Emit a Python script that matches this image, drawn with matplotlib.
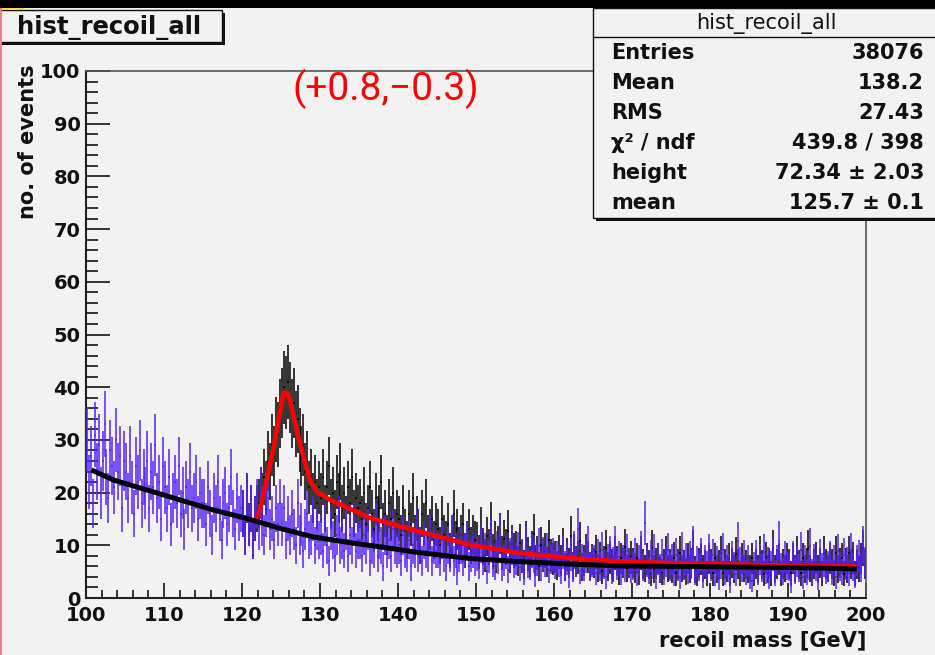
import numpy as np
import matplotlib
matplotlib.use('Agg')
import matplotlib.pyplot as plt
from matplotlib.patches import Rectangle
from matplotlib.lines import Line2D
from matplotlib.ticker import MultipleLocator

W, H = 935, 655
BG = '#f2f2f2'

# ---------------- data ----------------
bin_width = 0.25
bkg_start = 100.0
bkg_counts = [
    30, 22, 27, 18, 31, 24, 29, 20, 26, 33, 23, 19, 28, 25, 21, 30, 24, 27, 17, 26,
    24, 19, 27, 21, 16, 25, 22, 28, 18, 23, 20, 26, 17, 24, 21, 29, 19, 22, 15, 25,
    21, 17, 23, 14, 19, 22, 18, 25, 16, 20, 13, 21, 18, 24, 17, 19, 22, 15, 20, 18,
    18, 14, 21, 16, 12, 19, 17, 22, 15, 11, 18, 20, 14, 17, 23, 16, 13, 19, 15, 17,
    16, 12, 19, 14, 17, 11, 15, 18, 13, 20, 14, 12, 16, 19, 13, 15, 11, 17, 14, 18,
    14, 17, 11, 15, 12, 16, 13, 10, 18, 12, 14, 9, 13, 16, 11, 12, 15, 10, 13, 11,
    12, 9, 14, 10, 7, 13, 11, 8, 12, 15, 10, 11, 9, 13, 8, 12, 10, 14, 9, 11,
    11, 8, 12, 10, 13, 7, 10, 9, 14, 8, 11, 10, 6, 12, 9, 11, 8, 13, 10, 9,
    10, 7, 12, 9, 8, 11, 6, 10, 9, 13, 8, 10, 7, 11, 9, 8, 12, 7, 10, 9,
    9, 7, 11, 8, 6, 10, 8, 12, 7, 9, 5, 8, 10, 7, 9, 11, 6, 8, 9, 7,
    8.2, 6.4, 10.1, 7.3, 9.0, 5.2, 7.8, 11.3, 6.9, 6.1, 9.4, 7.7, 12.2, 5.9, 7.1, 8.8, 5.4, 8.3, 9.7, 6.6,
    7.4, 9.2, 5.8, 8.1, 4.9, 10.3, 6.7, 6.2, 8.9, 7.9, 4.3, 7.2, 9.8, 6.0, 8.4, 6.8, 9.1, 5.3, 7.5, 8.2,
    6.3, 7.8, 6.9, 5.1, 8.7, 6.2, 7.4, 4.2, 8.3, 5.7, 9.3, 6.8, 13.1, 5.2, 7.3, 6.0, 7.9, 10.2, 5.8, 6.9,
    7.2, 4.8, 8.1, 5.9, 9.2, 6.4, 3.9, 7.3, 8.6, 5.2, 6.8, 10.1, 6.2, 7.7, 4.9, 7.1, 5.6, 8.9, 6.7, 5.3,
    6.1, 8.3, 4.7, 7.2, 9.4, 5.8, 14.2, 6.8, 5.1, 7.9, 6.3, 8.8, 3.8, 7.4, 5.7, 8.1, 4.9, 6.9, 9.1, 5.9,
    7.3, 4.6, 8.2, 5.8, 3.9, 9.2, 6.1, 7.4, 5.2, 7.8, 6.4, 10.2, 4.8, 6.9, 5.9, 8.3, 4.1, 7.1, 6.2, 8.8,
    5.8, 8.1, 4.7, 6.9, 3.6, 6.3, 9.1, 4.9, 7.2, 5.7, 2.9, 7.8, 6.1, 4.6, 10.8, 6.8, 5.6, 7.9, 4.8, 7.2,
    3.8, 3.2, 6.1, 7.9, 4.8, 7.3, 5.7, 8.8, 5.1, 6.8, 3.9, 6.2, 8.3, 4.7, 7.1, 10.9, 5.8, 4.9, 7.8, 6.2,
    5.9, 2.8, 7.8, 5.2, 6.9, 5.7, 9.2, 3.9, 7.1, 4.8, 6.2, 9.8, 4.9, 7.3, 5.8, 3.7, 8.1, 5.9, 6.8, 5.1,
    6.2, 7.8, 4.8, 7.1, 3.9, 8.9, 5.8, 4.9, 8.2, 6.1, 6.8, 4.7, 9.1, 5.8, 4.2, 7.2, 7.9, 5.7, 10.1, 6.8,
]

all_start = 120.0
all_counts = [
    16, 12, 19, 14, 17, 11, 15, 17, 18, 20, 19, 23, 21, 26, 24, 29, 27, 32, 31, 35,
    37, 40, 39, 41, 38, 35, 37, 33, 34, 30, 27, 29, 24, 26, 21, 23, 19, 22, 18, 21,
    19, 23, 17, 21, 25, 18, 20, 16, 22, 19, 24, 17, 20, 15, 21, 18, 23, 16, 19, 17,
    18, 15, 20, 14, 17, 21, 16, 13, 19, 15, 17, 22, 14, 16, 12, 18, 15, 20, 13, 16,
    15, 12, 17, 13, 11, 16, 14, 19, 12, 15, 13, 10, 16, 14, 18, 12, 13, 15, 11, 14,
    13, 10, 15, 12, 11, 14, 9, 12, 16, 11, 13, 10, 12, 14, 9, 11, 13, 10, 12, 11,
    10.8, 8.7, 13.2, 9.8, 8.1, 11.7, 9.6, 14.1, 8.8, 10.9, 7.9, 10.2, 12.3, 8.6, 11.2, 9.7, 12.8, 7.8, 10.3, 9.1,
    9.4, 7.0, 10.5, 7.9, 6.3, 11.0, 8.4, 6.9, 9.3, 12.1, 7.1, 8.5, 6.0, 10.0, 8.1, 9.0, 6.8, 11.1, 8.0, 7.4,
    7.8, 6.2, 8.7, 7.1, 9.9, 5.8, 8.2, 6.7, 11.8, 6.1, 8.8, 6.9, 7.7, 10.8, 5.9, 7.2, 8.9, 7.8, 6.1, 7.3,
    6.6, 8.7, 5.7, 7.6, 5.1, 6.9, 9.5, 6.0, 7.7, 6.5, 5.6, 8.6, 7.0, 4.9, 7.5, 6.7, 9.6, 5.6, 6.6, 7.7,
    6.6, 5.5, 7.5, 4.9, 8.6, 6.5, 5.6, 7.4, 6.4, 4.7, 9.5, 5.5, 6.6, 7.5, 5.4, 4.9, 6.5, 8.5, 5.6, 6.5,
    5.5, 7.6, 4.7, 6.5, 8.5, 5.6, 6.4, 4.9, 7.5, 5.5, 6.6, 9.5, 5.4, 4.6, 6.6, 7.4, 5.6, 6.4, 4.7, 7.5,
    6.5, 4.7, 7.5, 5.5, 6.4, 8.5, 4.7, 6.5, 5.6, 7.4, 4.6, 6.6, 5.5, 8.4, 6.5, 4.7, 7.5, 5.6, 6.4, 5.5,
    5.6, 7.5, 4.7, 6.5, 5.5, 8.5, 6.4, 4.6, 7.6, 5.5, 6.6, 4.7, 9.5, 5.5, 6.5, 7.4, 4.7, 6.5, 5.6, 7.5,
    6.5, 4.7, 7.5, 5.6, 8.5, 6.4, 4.7, 7.5, 5.5, 6.6, 9.5, 5.6, 4.6, 6.5, 7.6, 5.5, 6.6, 4.7, 8.5, 6.5,
    5.6, 7.5, 6.5, 4.7, 8.5, 5.5, 6.6, 7.5, 4.6, 6.6, 5.5, 8.5, 6.5, 7.6, 4.7, 6.5, 5.6, 7.5, 9.5, 6.5,
]

bkg_fit_x = [100.7, 103.5, 107.8, 112.1, 116.3, 120.6, 124.9, 129.1, 133.4, 137.7,
             142.8, 149.2, 155.6, 162.0, 168.5, 179.1, 191.9, 198.8]
bkg_fit_y = [24.3, 22.4, 20.5, 18.6, 16.7, 15.1, 13.2, 11.6, 10.6, 9.7,
             8.6, 7.5, 6.9, 6.45, 6.1, 5.95, 5.75, 5.5]

sig_fit_x = [121.7, 122.3, 124.0, 125.3, 125.7, 126.15, 126.8, 127.65, 128.7, 129.6,
             131.3, 135.1, 136.4, 142.8, 149.2, 155.6, 162.0, 168.5, 179.0, 191.9, 198.8]
sig_fit_y = [14.4, 16.7, 28.1, 38.8, 39.0, 37.6, 33.2, 28.1, 22.4, 20.2,
             18.6, 16.1, 15.2, 12.6, 10.1, 8.5, 7.6, 6.9, 6.45, 6.1, 6.0]

x_ticks = [100, 110, 120, 130, 140, 150, 160, 170, 180, 190, 200]
y_ticks = [0, 10, 20, 30, 40, 50, 60, 70, 80, 90, 100]

stats_title = 'hist_recoil_all'
stats_rows = [
    ('Entries', '38076'),
    ('Mean', '138.2'),
    ('RMS', '27.43'),
    ('\u03c7\u00b2 / ndf', '439.8 / 398'),
    ('height', '72.34 \u00b1 2.03'),
    ('mean', '125.7 \u00b1 0.1'),
]
annotation = '(+0.8,\u22120.3)'

err_scale = 1.1
BLUE = '#5522ff'

# ---------------- figure ----------------
fig = plt.figure(figsize=(W / 100, H / 100), dpi=100, facecolor=BG)

def fx(px):
    return px / W

def fy(py):
    return 1 - py / H

ax = fig.add_axes([fx(86), fy(598), (866 - 86) / W, (598 - 71) / H])
ax.set_facecolor(BG)

def centers(start, n):
    return start + bin_width * (np.arange(n) + 0.5)

all_v = np.array(all_counts, dtype=float)
bkg_v = np.array(bkg_counts, dtype=float)

ax.errorbar(centers(all_start, len(all_v)), all_v, xerr=bin_width / 2,
            yerr=err_scale * np.sqrt(all_v), fmt='none', ecolor='black',
            elinewidth=1.1, capsize=0, zorder=2)
ax.errorbar(centers(bkg_start, len(bkg_v)), bkg_v, xerr=bin_width / 2,
            yerr=err_scale * np.sqrt(bkg_v), fmt='none', ecolor=BLUE,
            elinewidth=1.1, capsize=0, zorder=3)

ax.plot(sig_fit_x, sig_fit_y, color='#ff0000', lw=3.3, zorder=4,
        solid_capstyle='butt')
ax.plot(bkg_fit_x, bkg_fit_y, color='black', lw=3.6, zorder=5,
        solid_capstyle='butt')

ax.set_xlim(100, 200)
ax.set_ylim(0, 100)
ax.xaxis.set_minor_locator(MultipleLocator(2))
ax.yaxis.set_minor_locator(MultipleLocator(2))
ax.set_xticks(x_ticks)
ax.set_yticks(y_ticks)
ax.set_xticklabels([str(t) for t in x_ticks])
ax.set_yticklabels([str(t) for t in y_ticks])

ax.tick_params(axis='x', which='major', direction='in', length=11, width=1.1,
               top=False, pad=6, labelsize=14)
ax.tick_params(axis='x', which='minor', direction='in', length=5.5, width=1.1,
               top=False)
ax.tick_params(axis='y', which='major', direction='in', length=17, width=1.1,
               right=False, pad=4, labelsize=14)
ax.tick_params(axis='y', which='minor', direction='in', length=8.5, width=1.1,
               right=False)
for lab in ax.get_xticklabels() + ax.get_yticklabels():
    lab.set_fontweight('bold')
    lab.set_family('DejaVu Sans')
    lab.set_color('#111111')

for s in ('left', 'bottom'):
    ax.spines[s].set_linewidth(1.5)
    ax.spines[s].set_color('#222222')
for s in ('top', 'right'):
    ax.spines[s].set_linewidth(1.2)
    ax.spines[s].set_color('#555555')

# axis titles
fig.text(fx(28), fy(64), 'no. of events', rotation=90, ha='center', va='top',
         fontsize=15, fontweight='bold', color='#111111')
fig.text(fx(866), fy(640), 'recoil mass [GeV]', ha='right', va='center',
         fontsize=15, fontweight='bold', color='#111111')

# red annotation
fig.text(fx(386), fy(89), annotation, ha='center', va='center', fontsize=28,
         color='#ff0000', family=['Roboto', 'DejaVu Sans'])

def rect(x0, y0, x1, y1, **kw):
    r = Rectangle((fx(x0), fy(y1)), (x1 - x0) / W, (y1 - y0) / H,
                  transform=fig.transFigure, **kw)
    fig.add_artist(r)
    return r

# title box with shadow
rect(1, 13, 225, 45, facecolor='#111111', edgecolor='none', zorder=6)
rect(-5, 10, 222, 42, facecolor=BG, edgecolor='#111111', lw=1.0, zorder=7)
fig.text(fx(109), fy(27), stats_title, ha='center', va='center', fontsize=17.5,
         fontweight='bold', color='#111111', zorder=8)

# stats box with shadow
rect(596, 11, 945, 221, facecolor='#111111', edgecolor='none', zorder=6)
rect(593, 8, 940, 218, facecolor=BG, edgecolor='#111111', lw=1.0, zorder=7)
fig.add_artist(Line2D([fx(593), fx(935)], [fy(37), fy(37)], transform=fig.transFigure,
                      color='#111111', lw=1.0, zorder=8))
fig.text(fx(766), fy(23), stats_title, ha='center', va='center', fontsize=15,
         color='#111111', zorder=8)
for i, (k, v) in enumerate(stats_rows):
    yy = 53 + 30 * i
    fig.text(fx(611), fy(yy), k, ha='left', va='center', fontsize=15,
             fontweight='bold', color='#111111', zorder=8)
    fig.text(fx(924), fy(yy), v, ha='right', va='center', fontsize=15,
             fontweight='bold', color='#111111', zorder=8)

# frame decorations of the screenshot
rect(0, 0, 935, 8, facecolor='black', edgecolor='none', zorder=9)
rect(0, 8, 25, 10, facecolor='#f5e04a', edgecolor='none', zorder=9)
rect(0, 8, 2, 655, facecolor='#e8868e', edgecolor='none', zorder=9)

fig.savefig('out.png', dpi=100, facecolor=BG)
